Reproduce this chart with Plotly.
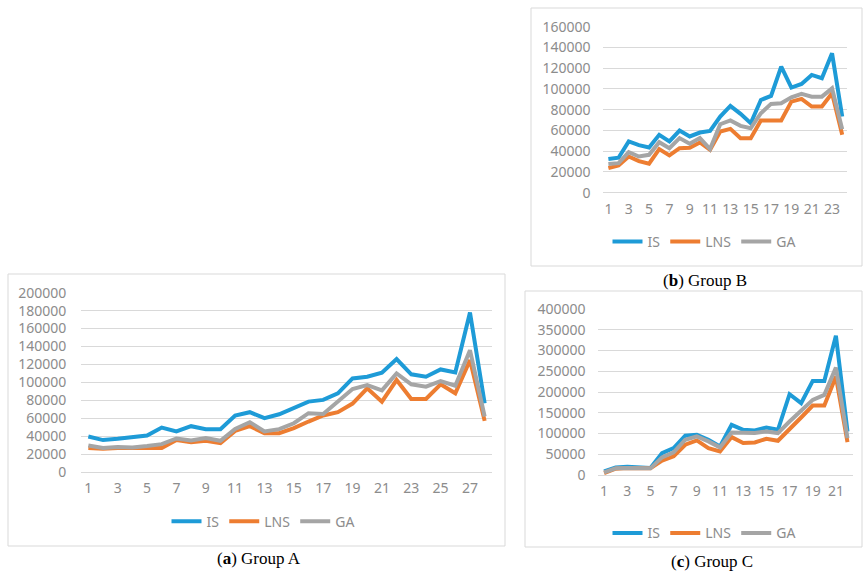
import plotly.graph_objects as go

# ---- data -------------------------------------------------------------
series_names = ["IS", "LNS", "GA"]
series_colors = ["#1E9BD7", "#ED7D31", "#A5A5A5"]

# Group A (28 instances)
a_is = [39600, 35600, 37000, 38500, 40700, 49600, 45200, 51100, 47800, 47800,
        63000, 66700, 60000, 64400, 71000, 78500, 80400, 87800, 104400, 106300,
        110700, 126000, 109000, 106300, 114400, 111100, 177800, 76700]
a_lns = [26700, 26000, 26700, 26300, 26700, 26700, 35600, 33300, 34800, 32200,
         45900, 51100, 43300, 43300, 48900, 56300, 63000, 66700, 76300, 93300,
         78500, 102600, 81500, 81500, 97800, 87800, 124800, 57000]
a_ga = [29600, 26700, 27800, 27400, 28900, 31100, 37400, 35200, 37800, 34800,
        48100, 55600, 45200, 47800, 54400, 65600, 64800, 79300, 92600, 97000,
        91100, 110000, 97800, 95200, 101500, 96300, 135900, 61900]

# Group B (24 instances)
b_is = [32400, 33700, 49400, 45800, 43600, 55800, 49400, 59900, 54200, 58000,
        59600, 73400, 83700, 76000, 67000, 89400, 93300, 121500, 101300, 104800,
        113500, 110300, 134300, 73400]
b_lns = [23700, 26300, 34900, 30400, 27900, 42000, 35900, 42900, 43300, 48400,
         41300, 59000, 61500, 52600, 52600, 69600, 69600, 69600, 87800, 90400,
         83000, 83000, 95800, 55800]
b_ga = [27600, 28500, 39100, 34900, 36500, 48700, 42900, 52600, 47100, 52600,
        42000, 66000, 69600, 64400, 62200, 76600, 85600, 86200, 92000, 95200,
        92600, 92600, 100600, 61200]

# Group C (22 instances)
c_is = [8800, 18400, 20000, 17600, 16800, 52900, 64900, 94600, 97000, 85000,
        68900, 121000, 109000, 107400, 114600, 109000, 194700, 173100, 226800,
        226800, 335700, 105000]
c_lns = [4800, 15200, 16800, 16000, 16000, 34500, 44900, 72900, 83300, 64900,
         56900, 91300, 76900, 78500, 87300, 82500, 109000, 138600, 167500,
         167500, 237200, 79300]
c_ga = [6400, 16000, 16800, 16000, 16000, 42500, 54500, 85000, 93000, 80900,
        66500, 102600, 101000, 101000, 105000, 101000, 129000, 154700, 181100,
        193100, 258800, 88900]

groups = [
    ("a", "Group A", [a_is, a_lns, a_ga], 200000, 20000),
    ("b", "Group B", [b_is, b_lns, b_ga], 160000, 20000),
    ("c", "Group C", [c_is, c_lns, c_ga], 400000, 50000),
]

# ---- layout helpers ---------------------------------------------------
W, H = 864, 573


def px_x(x):
    return x / W


def px_y(y):
    return 1 - y / H


# plot areas in pixels: (left, right, top, bottom)
plot_boxes = {
    "a": (81, 492, 292.7, 472),
    "b": (603.3, 847.3, 26.7, 192.7),
    "c": (598.3, 853.3, 309, 475),
}
# surrounding frames (left, top, right, bottom)
frames = {
    "a": (8, 274, 505, 546),
    "b": (531, 8, 862, 266),
    "c": (525, 291, 862, 547),
}
legend_pos = {"a": (263, 521.7), "b": (704, 242), "c": (704, 533.3)}
caption_pos = {"a": (259, 558), "b": (705, 280), "c": (712, 561.7)}
ylabel_pad = {"a": 11, "b": 9, "c": 9}

tick_font = dict(family="Noto Sans", size=14, color="#8C8C8C")
grid_color = "#D9D9D9"

fig = go.Figure()
layout = dict(
    template="none",
    width=W, height=H, autosize=False,
    margin=dict(l=0, r=0, t=0, b=0, pad=0, autoexpand=False),
    paper_bgcolor="white", plot_bgcolor="white",
    shapes=[], annotations=[],
)

for k, (key, title, values, ymax, ystep) in enumerate(groups):
    idx = "" if k == 0 else str(k + 1)
    legend_id = "legend" if k == 0 else f"legend{k + 1}"
    n = len(values[0])
    xs = list(range(1, n + 1))
    for name, color, ys in zip(series_names, series_colors, values):
        fig.add_trace(go.Scatter(
            x=xs, y=ys, name=name, mode="lines",
            line=dict(color=color, width=4, shape="linear"),
            xaxis="x" + idx, yaxis="y" + idx,
            legend=legend_id, hoverinfo="x+y+name",
        ))

    left, right, top, bottom = plot_boxes[key]
    layout["xaxis" + idx] = dict(
        domain=[px_x(left), px_x(right)],
        anchor="y" + idx, automargin=False,
        range=[0.5, n + 0.5],
        tickmode="array", tickvals=list(range(1, n + 1, 2)),
        showgrid=False, zeroline=False, showline=False,
        ticks="outside", ticklen=3, tickcolor="rgba(0,0,0,0)",
        tickfont=tick_font, fixedrange=True,
    )
    layout["yaxis" + idx] = dict(
        domain=[px_y(bottom), px_y(top)],
        anchor="x" + idx, automargin=False,
        range=[0, ymax], dtick=ystep, tick0=0,
        showgrid=True, gridcolor=grid_color, gridwidth=1.3,
        zeroline=True, zerolinecolor=grid_color, zerolinewidth=1.3,
        showline=False,
        ticks="outside", ticklen=ylabel_pad[key], tickcolor="rgba(0,0,0,0)",
        tickfont=tick_font, tickformat="d", fixedrange=True,
    )

    lx, ly = legend_pos[key]
    layout[legend_id] = dict(
        orientation="h", x=px_x(lx), y=px_y(ly),
        xanchor="center", yanchor="middle",
        font=tick_font, bgcolor="rgba(0,0,0,0)",
        itemwidth=30, tracegroupgap=0,
    )

    fl, ft, fr, fb = frames[key]
    layout["shapes"].append(dict(
        type="rect", xref="paper", yref="paper",
        x0=px_x(fl), x1=px_x(fr), y0=px_y(fb), y1=px_y(ft),
        line=dict(color=grid_color, width=1), fillcolor="rgba(0,0,0,0)",
        layer="below",
    ))

    cx, cy = caption_pos[key]
    layout["annotations"].append(dict(
        text=f"(<b>{key}</b>) {title}", xref="paper", yref="paper",
        x=px_x(cx), y=px_y(cy), xanchor="center", yanchor="middle",
        showarrow=False,
        font=dict(family="Liberation Serif", size=17, color="#000000"),
    ))

fig.update_layout(**layout)
fig.write_html("out.html")
